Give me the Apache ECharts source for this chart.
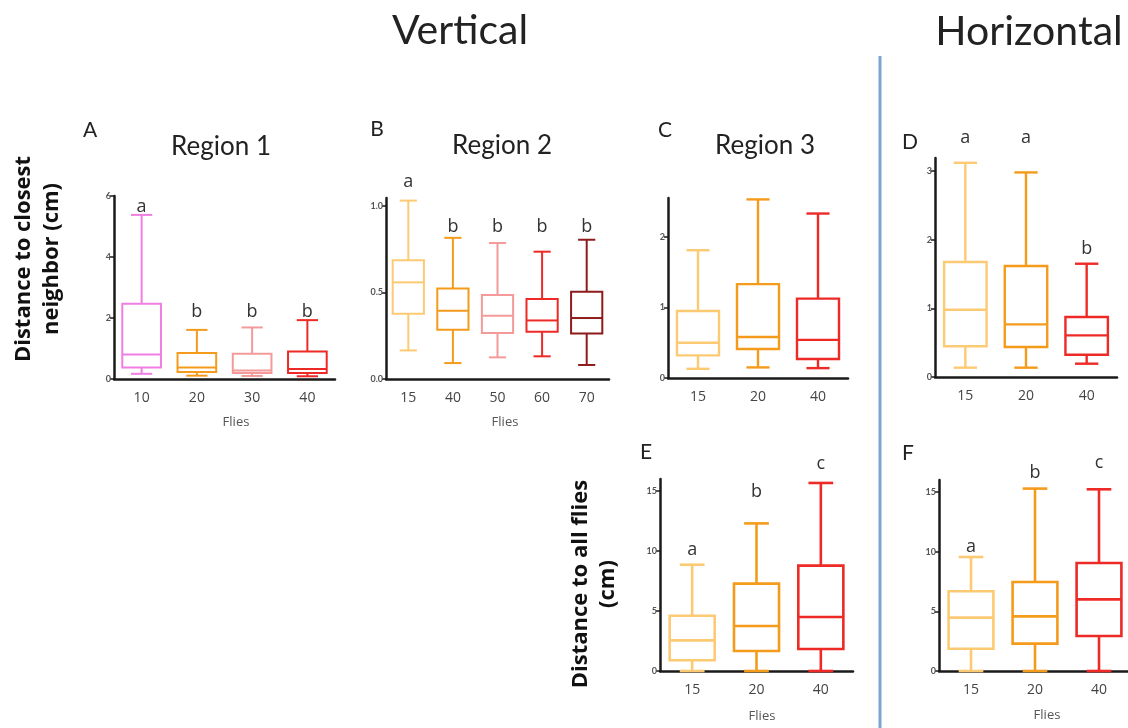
<!DOCTYPE html>
<html><head><meta charset="utf-8">
<script src="https://cdn.jsdelivr.net/npm/echarts@6/dist/echarts.min.js"></script>
<style>html,body{margin:0;padding:0;background:#fff}#c{width:1128px;height:728px}</style>
</head><body><div id="c"></div>
<script>
// ---- data: [min, Q1, median, Q3, max] ----
const catA = ['10','20','30','40'];
const boxA = [[0.17,0.38,0.80,2.47,5.38],[0.11,0.23,0.38,0.85,1.61],[0.10,0.20,0.28,0.83,1.69],[0.09,0.20,0.33,0.90,1.93]];
const letA = ['a','b','b','b'];
const letYA = [5.64,2.2,2.2,2.2];

const catB = ['15','40','50','60','70'];
const boxB = [[0.165,0.377,0.558,0.685,1.03],[0.092,0.285,0.394,0.523,0.815],[0.125,0.265,0.365,0.485,0.785],[0.131,0.273,0.338,0.462,0.735],[0.081,0.262,0.352,0.504,0.804]];
const letB = ['a','b','b','b','b'];
const letYB = [1.14,0.88,0.88,0.88,0.88];

const catC = ['15','20','40'];
const boxC = [[0.13,0.32,0.50,0.95,1.81],[0.15,0.41,0.58,1.33,2.53],[0.14,0.27,0.54,1.125,2.33]];
const letC = ['','',''];
const letYC = [0,0,0];

const catD = ['15','20','40'];
const boxD = [[0.136,0.447,0.98,1.675,3.12],[0.136,0.437,0.767,1.617,2.98],[0.194,0.325,0.607,0.874,1.65]];
const letD = ['a','a','b'];
const letYD = [3.48,3.48,1.86];

const catE = ['15','20','40'];
const boxE = [[0,0.89,2.55,4.6,8.86],[0,1.67,3.75,7.28,12.3],[0,1.83,4.5,8.78,15.67]];
const letE = ['a','b','c'];
const letYE = [10.1,14.9,17.3];

const catF = ['15','20','40'];
const boxF = [[0,1.87,4.47,6.68,9.55],[0,2.29,4.58,7.46,15.28],[0,2.93,6.0,9.05,15.22]];
const letF = ['a','b','c'];
const letYF = [10.4,16.6,17.4];

const yTicksA = [0,2,4,6];
const yTicksB = [0,0.5,1.0];
const yTicksC = [0,1,2];
const yTicksD = [0,1,2,3];
const yTicksE = [0,5,10,15];
const yTicksF = [0,5,10,15];

// ---- styles ----
const FONT = 'Lato, "Open Sans", sans-serif';
const FONT2 = '"Open Sans", Lato, sans-serif';
const PINK='#f17ee2', ORANGE='#f59b1c', LIGHT='#fdca74', SALMON='#f49a9a', RED='#ee2a26', DARK='#8e1b1b';

const panels = [
  {cat:catA, box:boxA, let:letA, letY:letYA, ticks:yTicksA, max:6, dec:0, colors:[PINK,ORANGE,SALMON,RED], lw:2, left:114, top:196, width:221, height:183},
  {cat:catB, box:boxB, let:letB, letY:letYB, ticks:yTicksB, max:1.045, dec:1, colors:[LIGHT,ORANGE,SALMON,RED,DARK], lw:2, left:386, top:198, width:223, height:181},
  {cat:catC, box:boxC, let:letC, letY:letYC, ticks:yTicksC, max:2.55, dec:0, colors:[LIGHT,ORANGE,RED], lw:2.4, left:668, top:198, width:180, height:180},
  {cat:catD, box:boxD, let:letD, letY:letYD, ticks:yTicksD, max:3.19, dec:0, colors:[LIGHT,ORANGE,RED], lw:2.4, left:935, top:158, width:182, height:219},
  {cat:catE, box:boxE, let:letE, letY:letYE, ticks:yTicksE, max:16, dec:0, colors:[LIGHT,ORANGE,RED], lw:2.6, left:660, top:479, width:193, height:192},
  {cat:catF, box:boxF, let:letF, letY:letYF, ticks:yTicksF, max:16, dec:0, colors:[LIGHT,ORANGE,RED], lw:2.6, left:939, top:480, width:192, height:191}
];

function makeRender(p){
  return function(params, api){
    const i = api.value(0);
    const pts = [1,2,3,4,5].map(k => api.coord([i, api.value(k)]));
    const x = pts[0][0];
    const band = api.size([1,0])[0];
    const bw = band*0.7, cw = bw*0.55;
    const col = p.colors[i];
    const st = {stroke: col, lineWidth: p.lw, fill: null};
    const line = (x1,y1,x2,y2) => ({type:'line', shape:{x1,y1,x2,y2}, style:st});
    const children = [
      line(x, pts[1][1], x, pts[0][1]),
      line(x - cw/2, pts[0][1], x + cw/2, pts[0][1]),
      line(x, pts[3][1], x, pts[4][1]),
      line(x - cw/2, pts[4][1], x + cw/2, pts[4][1]),
      {type:'rect', shape:{x: x - bw/2, y: pts[3][1], width: bw, height: pts[1][1]-pts[3][1]}, style:st},
      line(x - bw/2, pts[2][1], x + bw/2, pts[2][1])
    ];
    const L = p.let[i];
    if (L) {
      const tp = api.coord([i, p.letY[i]]);
      children.push({type:'text', x: tp[0], y: tp[1], style:{text:L, fill:'#333', font:'18px '+FONT2, align:'center', verticalAlign:'middle'}});
    }
    return {type:'group', children};
  };
}

const grid=[], xAxis=[], yAxis=[], series=[];
panels.forEach((p, k) => {
  grid.push({left:p.left, top:p.top, width:p.width, height:p.height, containLabel:false, outerBoundsMode:'none'});
  xAxis.push({type:'category', gridIndex:k, data:p.cat, boundaryGap:true,
    axisLine:{lineStyle:{color:'#1a1a1a', width:2.5}}, axisTick:{show:false},
    axisLabel:{color:'#444', fontSize:14, fontFamily:FONT2, margin:12}, splitLine:{show:false}});
  yAxis.push({type:'value', gridIndex:k, min:0, max:p.max,
    axisLine:{show:true, lineStyle:{color:'#1a1a1a', width:2.5}},
    axisTick:{show:true, length:4, customValues:p.ticks, lineStyle:{color:'#1a1a1a', width:1.5}},
    axisLabel:{customValues:p.ticks, color:'#555', fontSize:9, fontWeight:'bold', fontFamily:FONT, margin:3,
      formatter: v => Number(v).toFixed(p.dec)},
    splitLine:{show:false}});
  series.push({type:'custom', xAxisIndex:k, yAxisIndex:k, clip:false,
    encode:{x:0, y:[1,2,3,4,5]},
    data: p.box.map((b,i) => [i].concat(b)),
    renderItem: makeRender(p)});
});

const txt = (x,y,text,size,extra) => Object.assign({type:'text', x, y, style:Object.assign({text, fill:'#222', font:size+'px '+FONT, align:'center', verticalAlign:'middle'}, extra||{})});
const graphic = [
  {type:'line', shape:{x1:880,y1:56,x2:880,y2:728}, style:{stroke:'#7aa5d2', lineWidth:3}},
  txt(460,31,'Vertical',41),
  txt(1029,32,'Horizontal',41),
  txt(221,147,'Region 1',26),
  txt(502,146,'Region 2',26),
  txt(765,146,'Region 3',26),
  txt(90,130,'A',21), txt(377,129,'B',21), txt(665,130,'C',21),
  txt(910,142,'D',21), txt(646,452,'E',21), txt(908,453,'F',21),
  txt(236,422,'Flies',13,{fill:'#555', font:'13px '+FONT2}), txt(505,422,'Flies',13,{fill:'#555', font:'13px '+FONT2}),
  txt(762,716,'Flies',13,{fill:'#555', font:'13px '+FONT2}), txt(1047,715,'Flies',13,{fill:'#555', font:'13px '+FONT2}),
  {type:'text', x:38, y:259, rotation:Math.PI/2, style:{text:'Distance to closest\nneighbor (cm)', fill:'#111', font:'bold 22px '+FONT2, align:'center', verticalAlign:'middle', lineHeight:28}},
  {type:'text', x:594, y:584, rotation:Math.PI/2, style:{text:'Distance to all flies\n(cm)', fill:'#111', font:'bold 22px '+FONT2, align:'center', verticalAlign:'middle', lineHeight:27}}
];

const chart = echarts.init(document.getElementById('c'), null, {renderer:'canvas'});
chart.setOption({animation:false, backgroundColor:'#fff', grid, xAxis, yAxis, series, graphic});
</script></body></html>
